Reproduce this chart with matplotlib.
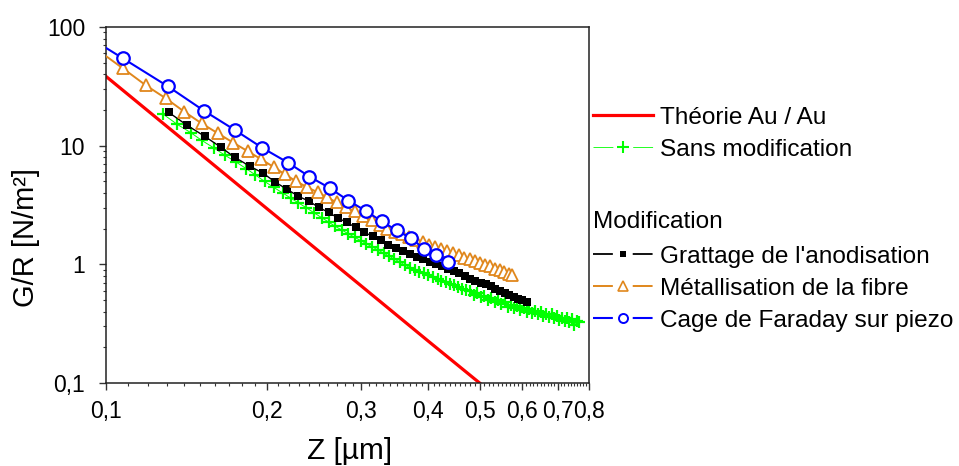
import numpy as np
import matplotlib
matplotlib.use("Agg")
import matplotlib.pyplot as plt
from matplotlib.lines import Line2D
from matplotlib.ticker import FixedLocator, FixedFormatter, NullFormatter

plt.rcParams['font.family'] = ['Liberation Sans', 'DejaVu Sans']
plt.rcParams['lines.scale_dashes'] = False

# theory Au / Au
z_theory = [0.1, 0.2, 0.3, 0.4, 0.5]
g_theory = [38.4, 2.95, 0.66, 0.227, 0.1]

# sans modification
z_sans = [0.128, 0.136, 0.144, 0.151, 0.159, 0.167, 0.175, 0.183, 0.190, 0.198,
          0.206, 0.214, 0.222, 0.229, 0.237, 0.245, 0.253, 0.261, 0.268, 0.276,
          0.284, 0.292, 0.300, 0.307, 0.315, 0.323, 0.331, 0.339, 0.346, 0.354,
          0.362, 0.370, 0.378, 0.385, 0.393, 0.401, 0.409, 0.417, 0.424, 0.432,
          0.440, 0.448, 0.456, 0.463, 0.471, 0.479, 0.487, 0.495, 0.502, 0.510,
          0.518, 0.526, 0.534, 0.541, 0.549, 0.557, 0.565, 0.573, 0.580, 0.588,
          0.596, 0.604, 0.612, 0.619, 0.627, 0.635, 0.643, 0.651, 0.658, 0.666,
          0.674, 0.682, 0.690, 0.697, 0.705, 0.713, 0.721, 0.729, 0.736, 0.744,
          0.752, 0.760, 0.768]
g_sans = [18.4, 15.1, 12.9, 11.1, 9.6, 8.3, 7.3, 6.4, 5.7, 5.0,
          4.45, 4.0, 3.6, 3.3, 3.0, 2.72, 2.48, 2.27, 2.10, 1.95,
          1.81, 1.69, 1.58, 1.49, 1.40, 1.32, 1.24, 1.17, 1.11, 1.05,
          0.99, 0.94, 0.90, 0.87, 0.84, 0.81, 0.78, 0.755, 0.73, 0.71,
          0.685, 0.665, 0.645, 0.625, 0.605, 0.60, 0.555, 0.575, 0.535, 0.545,
          0.505, 0.52, 0.48, 0.50, 0.465, 0.48, 0.44, 0.455, 0.425, 0.445,
          0.415, 0.43, 0.40, 0.42, 0.39, 0.405, 0.38, 0.40, 0.37, 0.385,
          0.36, 0.38, 0.35, 0.365, 0.34, 0.355, 0.335, 0.35, 0.33, 0.345,
          0.31, 0.335, 0.325]

# grattage de l'anodisation
z_gratt = [0.131, 0.142, 0.153, 0.164, 0.174, 0.186, 0.197, 0.207, 0.218, 0.229,
           0.240, 0.250, 0.261, 0.272, 0.282, 0.293, 0.304, 0.316, 0.327, 0.337,
           0.348, 0.359, 0.370, 0.381, 0.392, 0.403, 0.414, 0.425, 0.436, 0.447,
           0.458, 0.469, 0.480, 0.491, 0.502, 0.513, 0.524, 0.535, 0.546, 0.557,
           0.568, 0.579, 0.590, 0.601, 0.612]
g_gratt = [19.1, 14.8, 12.0, 9.7, 8.0, 6.7, 5.85, 4.95, 4.3, 3.75,
           3.40, 3.02, 2.74, 2.45, 2.26, 2.05, 1.86, 1.72, 1.59, 1.47,
           1.37, 1.29, 1.23, 1.16, 1.10, 1.05, 1.00, 0.96, 0.92, 0.88,
           0.84, 0.80, 0.76, 0.73, 0.70, 0.68, 0.655, 0.625, 0.60, 0.575,
           0.555, 0.535, 0.515, 0.50, 0.485]

# metallisation de la fibre
z_metal = [0.0966, 0.1076, 0.1188, 0.1295, 0.140, 0.151, 0.162, 0.173, 0.184, 0.195,
           0.206, 0.216, 0.227, 0.238, 0.249, 0.259, 0.270, 0.281, 0.292, 0.303,
           0.314, 0.325, 0.336, 0.347, 0.358, 0.369, 0.380, 0.391, 0.402, 0.413,
           0.424, 0.435, 0.446, 0.457, 0.468, 0.479, 0.490, 0.501, 0.512, 0.523,
           0.534, 0.545, 0.556, 0.567, 0.575]
g_metal = [63.7, 44.8, 32.2, 25.0, 19.4, 15.4, 12.7, 10.6, 9.0, 7.7,
           6.6, 5.75, 5.0, 4.46, 4.04, 3.67, 3.33, 3.02, 2.80, 2.54,
           2.35, 2.13, 2.0, 1.87, 1.79, 1.71, 1.62, 1.54, 1.47, 1.41,
           1.35, 1.29, 1.24, 1.19, 1.14, 1.10, 1.06, 1.02, 0.99, 0.96,
           0.92, 0.89, 0.86, 0.83, 0.81]

# cage de faraday sur piezo
z_cage = [0.0856, 0.1076, 0.1306, 0.1525, 0.174, 0.196, 0.219, 0.240, 0.262,
          0.284, 0.307, 0.328, 0.350, 0.372, 0.393, 0.415, 0.437]
g_cage = [103, 54.4, 31.6, 19.7, 13.6, 9.6, 7.2, 5.5, 4.4,
          3.45, 2.8, 2.3, 1.93, 1.66, 1.36, 1.20, 1.04]

x_ticks = [0.1, 0.2, 0.3, 0.4, 0.5, 0.6, 0.7, 0.8]
x_labels = ["0,1", "0,2", "0,3", "0,4", "0,5", "0,6", "0,7", "0,8"]
y_ticks = [0.1, 1, 10, 100]
y_labels = ["0,1", "1", "10", "100"]

ORANGE = "#e0871c"
GREEN = "#00ff00"

fig = plt.figure(figsize=(9.59, 4.66), dpi=100)
ax = fig.add_axes([0.1105, 0.178, 0.5035, 0.764])

ax.plot(z_theory, g_theory, color="red", lw=2.3, zorder=2)
ax.plot(z_sans, g_sans, color=GREEN, lw=0.7, marker="+", ms=9, mew=1.6, zorder=3)
ax.plot(z_gratt, g_gratt, color="black", lw=1.0, marker="s", ms=5.2, mew=0, zorder=4)
ax.plot(z_metal, g_metal, color=ORANGE, lw=1.4, marker="^", ms=8.5, mew=1.3,
        mfc="white", zorder=5)
ax.plot(z_cage, g_cage, color="blue", lw=1.5, marker="o", ms=9, mew=1.6,
        mfc="white", zorder=6)

ax.set_xscale("log")
ax.set_yscale("log")
ax.set_xlim(0.1, 0.8)
ax.set_ylim(0.1, 100)

ax.xaxis.set_major_locator(FixedLocator(x_ticks))
ax.xaxis.set_major_formatter(FixedFormatter(x_labels))
ax.xaxis.set_minor_locator(FixedLocator(np.arange(0.11, 0.8, 0.01)))
ax.xaxis.set_minor_formatter(NullFormatter())
ax.yaxis.set_major_locator(FixedLocator(y_ticks))
ax.yaxis.set_major_formatter(FixedFormatter(y_labels))
ax.yaxis.set_minor_locator(FixedLocator(
    [m * d for d in (0.1, 1, 10) for m in range(2, 10)]))
ax.yaxis.set_minor_formatter(NullFormatter())

ax.tick_params(which="major", direction="out", length=5, width=1.0,
               labelsize=16.5, color="#333333")
ax.tick_params(which="minor", direction="out", length=2.5, width=0.8,
               color="#333333")
ax.tick_params(axis="y", which="major", pad=10)
ax.tick_params(axis="x", which="major", pad=7)
for sp in ax.spines.values():
    sp.set_linewidth(1.1)
    sp.set_color("#222222")

ax.set_xlabel("Z [µm]", fontsize=21.5)
ax.set_ylabel("G/R [N/m²]", fontsize=21)
ax.xaxis.set_label_coords(0.505, -0.152)
ax.yaxis.set_label_coords(-0.137, 0.41)

# legend handles: line - marker - line with gaps
gap = (0, (14.3, 14.3))
h1 = [Line2D([], [], color="red", lw=2.3),
      Line2D([], [], color=GREEN, lw=0.6, ls=gap, marker="+", ms=8, mew=1.5)]
leg1 = fig.legend(h1, ["Théorie Au / Au", "Sans modification"],
                  loc="upper left", bbox_to_anchor=(0.618, 0.771),
                  frameon=False, fontsize=17.6, handlelength=2.45,
                  handletextpad=0.3, labelspacing=0.4, borderpad=0,
                  borderaxespad=0)

h2 = [Line2D([], [], color="black", lw=1.3, ls=gap, marker="s", ms=5, mew=0),
      Line2D([], [], color=ORANGE, lw=1.4, ls=gap, marker="^", ms=6.5, mew=1.2,
             mfc="white"),
      Line2D([], [], color="blue", lw=1.5, ls=gap, marker="o", ms=6.5, mew=1.4,
             mfc="white")]
leg2 = fig.legend(h2, ["Grattage de l'anodisation", "Métallisation de la fibre",
                       "Cage de Faraday sur piezo"],
                  title="Modification", title_fontsize=17.6, alignment="left",
                  loc="upper left", bbox_to_anchor=(0.618, 0.548),
                  frameon=False, fontsize=17.6, handlelength=2.45,
                  handletextpad=0.3, labelspacing=0.4, borderpad=0,
                  borderaxespad=0)
leg2._legend_box.sep = 9.5

fig.savefig("out.png", dpi=100)
